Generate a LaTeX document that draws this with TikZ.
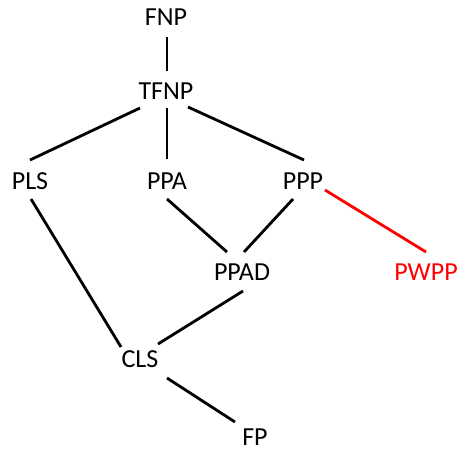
\documentclass[tikz,border=0pt]{standalone}
\usepackage{fontspec}
\setmainfont{Carlito}
\usetikzlibrary{calc}
\definecolor{pwppred}{RGB}{255,0,0}
\begin{document}
\begin{tikzpicture}[x=1pt,y=-1pt,
  cls/.style={anchor=base,inner sep=0pt,font=\fontsize{26}{31}\selectfont},
  edge/.style={line width=2.8pt},
  redge/.style={edge,draw=pwppred}]
\useasboundingbox (0,0) rectangle (457,451);

% complexity classes
\node[cls] (FNP)  at (166,25)  {FNP};
\node[cls] (TFNP) at (166,99)  {TFNP};
\node[cls] (PLS)  at (30,189)  {PLS};
\node[cls] (PPA)  at (167,189) {PPA};
\node[cls] (PPP)  at (303,189) {PPP};
\node[cls] (PPAD) at (242,280) {PPAD};
\node[cls,text=pwppred] (PWPP) at (426,280) {PWPP};
\node[cls] (CLS)  at (140,367) {CLS};
\node[cls] (FP)   at (255,445) {FP};

% inclusions
\draw[edge] ($(FNP.base)+(1,12)$)   -- ($(TFNP.base)+(1,-28)$);
\draw[edge] ($(TFNP.base)+(-26,9)$) -- ($(PLS.base)+(0,-29)$);
\draw[edge] ($(TFNP.base)+(1,9)$)   -- ($(PPA.base)+(0,-30)$);
\draw[edge] ($(TFNP.base)+(22,8)$)  -- ($(PPP.base)+(1,-29)$);
\draw[edge] ($(PLS.base)+(1,10)$)   -- ($(CLS.base)+(-19,-20)$);
\draw[edge] ($(PPA.base)+(0,10)$)   -- ($(PPAD.base)+(-15,-28)$);
\draw[edge] ($(PPP.base)+(-10,10)$) -- ($(PPAD.base)+(2,-28)$);
\draw[redge] ($(PPP.base)+(22,1)$)  -- ($(PWPP.base)+(0,-28)$);
\draw[edge] ($(PPAD.base)+(1,11)$)  -- ($(CLS.base)+(18,-23)$);
\draw[edge] ($(CLS.base)+(27,11)$)  -- ($(FP.base)+(-20,-23)$);
\end{tikzpicture}
\end{document}
